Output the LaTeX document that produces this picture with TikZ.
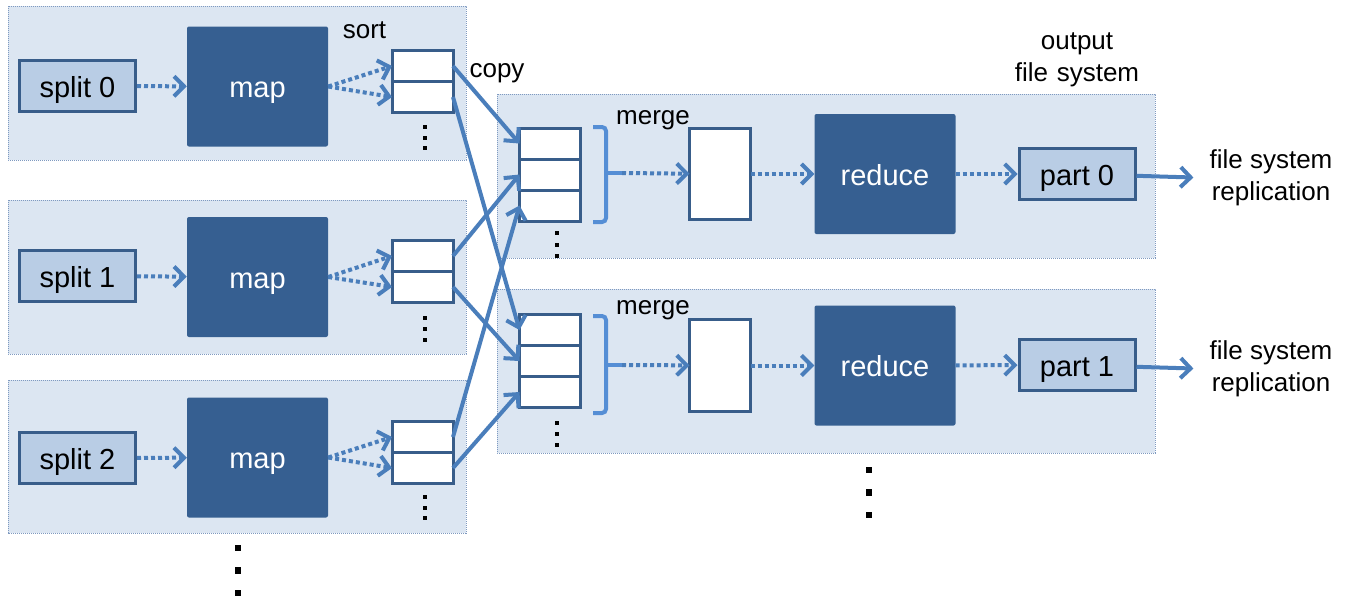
\documentclass[tikz,border=0pt]{standalone}
\usepackage{fontspec}
\setmainfont{Liberation Sans}
\usetikzlibrary{positioning,arrows.meta}

\definecolor{panelfill}{HTML}{DCE6F2}
\definecolor{panelline}{HTML}{7F9AC0}
\definecolor{boxline}{HTML}{385D8A}
\definecolor{splitfill}{HTML}{B9CDE5}
\definecolor{taskfill}{HTML}{365F91}
\definecolor{flow}{HTML}{4A7EBB}
\definecolor{bracecol}{HTML}{558ED5}

\newcommand{\boxfont}{\fontsize{29}{34}\selectfont}
\newcommand{\notefont}{\fontsize{26}{32}\selectfont}
\newcommand{\dotcol}[4]{\foreach \k in {0,1,2} \fill (#1-#4/2, #2+\k*#3-#4/2) rectangle ++(#4,#4);}

\tikzstyle{panel} = [draw=panelline, fill=panelfill, line width=0.8pt, dash pattern=on 1.2pt off 0.8pt]
\tikzstyle{split} = [rectangle, draw=boxline, fill=splitfill, line width=3pt,
    minimum width=116pt, minimum height=51pt, inner sep=0pt, font=\boxfont,
    text height=26pt, text depth=4pt]
\tikzstyle{task} = [rectangle, fill=taskfill, rounded corners=2pt, text=white,
    minimum width=141pt, minimum height=120pt, font=\boxfont,
    text height=26pt, text depth=4pt]
\tikzstyle{buffer} = [rectangle, draw=boxline, fill=white, line width=3pt,
    minimum width=61pt, minimum height=31pt, inner sep=0pt, outer sep=0pt]
\tikzstyle{note} = [font=\notefont, inner sep=0pt, align=center]
\tikzstyle{line} = [draw=flow, line width=4pt, -{Straight Barb[length=10pt,width=20pt]}]
\tikzstyle{dotline} = [line, dash pattern=on 4pt off 3pt]
\tikzstyle{brace} = [draw=bracecol, line width=4pt, rounded corners=4pt]

\begin{document}
\begin{tikzpicture}[x=1pt, y=-1pt]
    \useasboundingbox (0,0) rectangle (1347,600);
    % panels
    \draw [panel] (8,6) rectangle (466,160);
    \draw [panel] (8,200) rectangle (466,354);
    \draw [panel] (8,380) rectangle (466,533);
    \draw [panel] (497,94) rectangle (1155,258);
    \draw [panel] (497,289) rectangle (1155,453);

    % map side
    \node [split] (split0) at (77.5,86) {split 0};
    \node [task] (map0) at (257.5,86.5) {map};
    \node [buffer] (sort0a) at (422.5,66) {};
    \node [buffer, below=0pt of sort0a] (sort0b) {};
    \node [split] (split1) at (77.5,276) {split 1};
    \node [task] (map1) at (257.5,277) {map};
    \node [buffer] (sort1a) at (422.5,256) {};
    \node [buffer, below=0pt of sort1a] (sort1b) {};
    \node [split] (split2) at (77.5,458) {split 2};
    \node [task] (map2) at (257.5,457.5) {map};
    \node [buffer] (sort2a) at (422.5,437) {};
    \node [buffer, below=0pt of sort2a] (sort2b) {};

    % reduce side
    \node [buffer] (mergeA1) at (550,143.5) {};
    \node [buffer, below=0pt of mergeA1] (mergeA2) {};
    \node [buffer, below=0pt of mergeA2] (mergeA3) {};
    \node [buffer, minimum height=91pt] (copyA) at (720,174) {};
    \node [task] (reduceA) at (885,174) {reduce};
    \node [split] (part0) at (1077,174) {part 0};
    \node [buffer] (mergeB1) at (550,330) {};
    \node [buffer, below=0pt of mergeB1] (mergeB2) {};
    \node [buffer, below=0pt of mergeB2] (mergeB3) {};
    \node [buffer, minimum height=92pt] (copyB) at (720,365.5) {};
    \node [task] (reduceB) at (885,365.5) {reduce};
    \node [split] (part1) at (1077,365) {part 1};

    % labels
    \node [note, anchor=base] (sortlbl) at (364.5,38) {sort};
    \node [note, anchor=base] (copylbl) at (497,77) {copy};
    \node [note, anchor=base] (mergelblA) at (653,124) {merge};
    \node [note, anchor=base] (mergelblB) at (653,314) {merge};
    \node [note, text width=130pt] (outlbl) at (1077,60) {output\\file system};
    \node [note] (replA) at (1271,178) {file system\\replication};
    \node [note] (replB) at (1271,369) {file system\\replication};

    % braces
    \draw [brace] (593,127) -- (606,127) -- (606,222) -- (593,222);
    \draw [brace] (606,173) -- (622,173) coordinate (braceA);
    \draw [brace] (593,316) -- (606,316) -- (606,413) -- (593,413);
    \draw [brace] (606,365) -- (622,365) coordinate (braceB);

    % dotted arrows
    \path [dotline] (split0) -- (map0);
    \path [dotline] (map0.east) -- (sort0a.west);
    \path [dotline] (map0.east) -- (sort0b.west);
    \path [dotline] (split1) -- (map1);
    \path [dotline] (map1.east) -- (sort1a.west);
    \path [dotline] (map1.east) -- (sort1b.west);
    \path [dotline] (split2) -- (map2);
    \path [dotline] (map2.east) -- (sort2a.west);
    \path [dotline] (map2.east) -- (sort2b.west);
    \path [dotline] (braceA) -- (copyA);
    \path [dotline] (copyA) -- (reduceA);
    \path [dotline] (reduceA) -- (part0);
    \path [dotline] (braceB) -- (copyB);
    \path [dotline] (copyB) -- (reduceB);
    \path [dotline] (reduceB) -- (part1);

    % copy arrows
    \path [line] (sort0a.east) -- (mergeA1.west);
    \path [line] (sort0b.east) -- (mergeB1.west);
    \path [line] (sort1a.east) -- (mergeA2.west);
    \path [line] (sort1b.east) -- (mergeB2.west);
    \path [line] (sort2a.east) -- (mergeA3.west);
    \path [line] (sort2b.east) -- (mergeB3.west);
    \path [line, shorten >=16pt] (part0) -- (replA.west);
    \path [line, shorten >=16pt] (part1) -- (replB.west);

    % dots
    \dotcol{425}{127}{10.5}{4}
    \dotcol{425}{318}{11}{4}
    \dotcol{425}{497}{10.5}{4}
    \dotcol{557}{233}{11.5}{4}
    \dotcol{557}{423}{11}{4}
    \dotcol{238}{548}{22.5}{6.5}
    \dotcol{869}{470}{22.5}{6.5}
\end{tikzpicture}
\end{document}
